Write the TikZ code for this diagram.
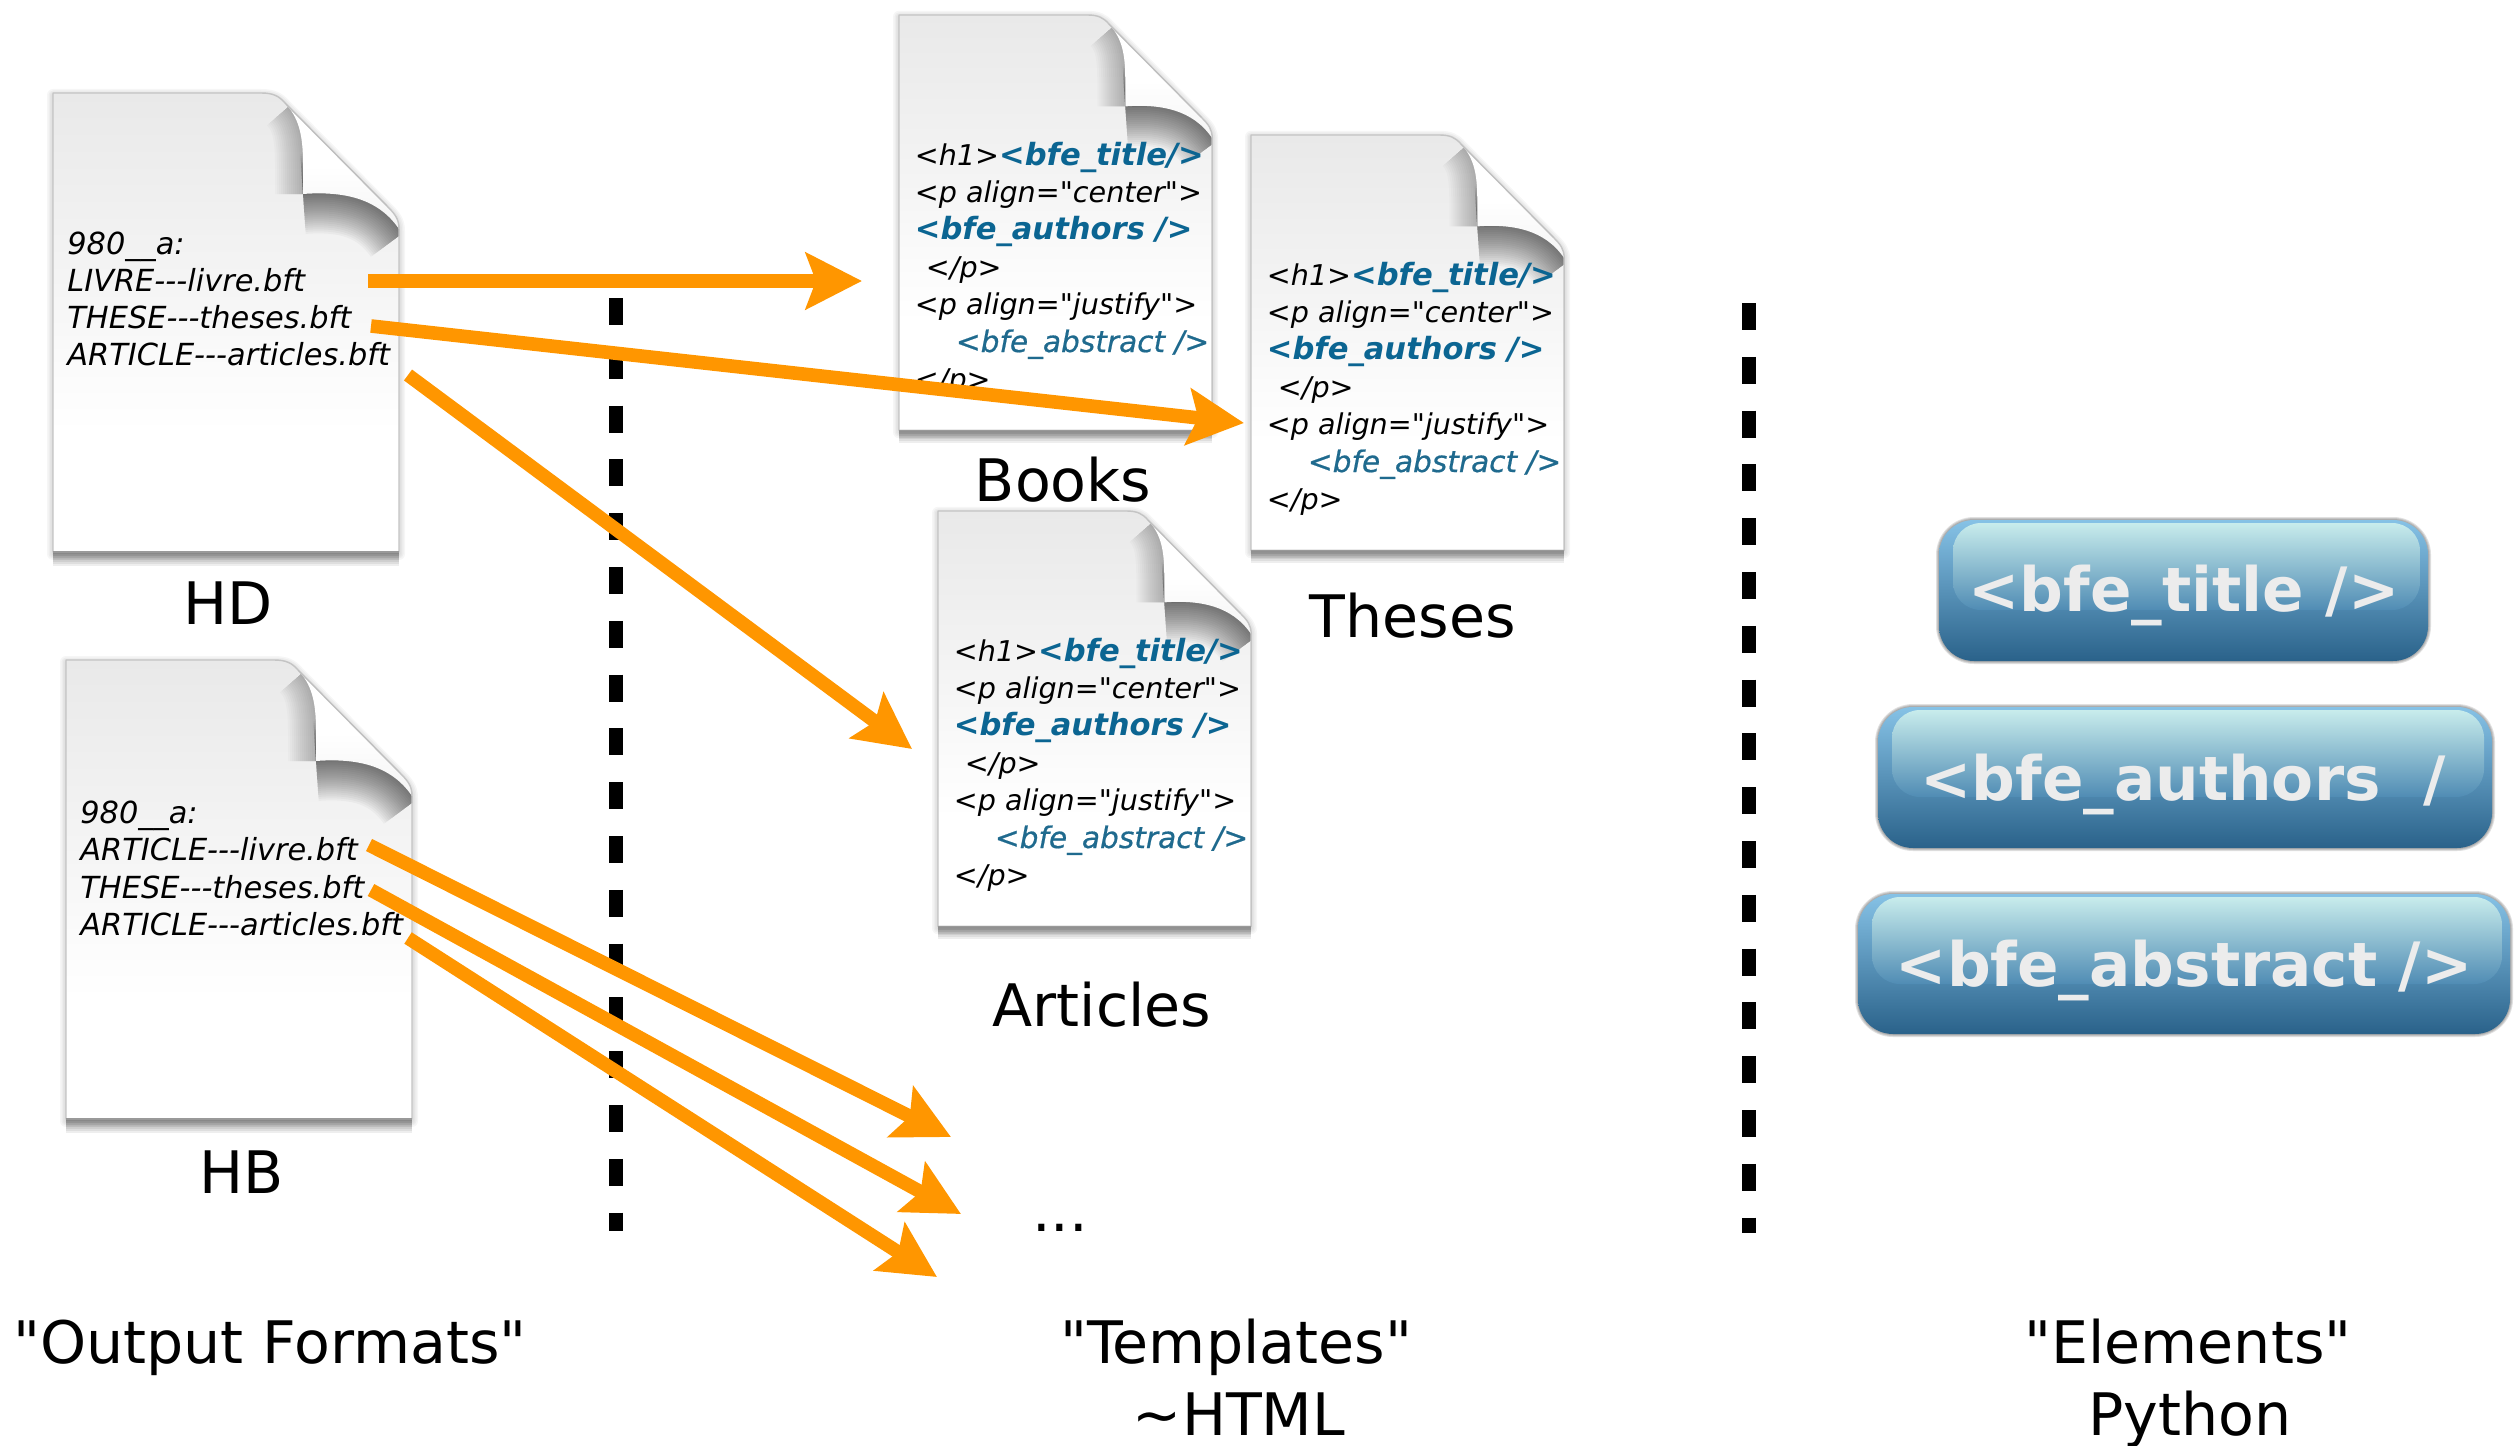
\documentclass[tikz,border=0pt]{standalone}
\usepackage{fontspec}
\newfontfamily\dv{DejaVu Sans}
\usetikzlibrary{arrows.meta}
\definecolor{flowc}{HTML}{FF9600}
\definecolor{bfec}{HTML}{0B6592}
\definecolor{absc}{HTML}{1F6A8E}
\definecolor{pg1}{HTML}{E9E9E9}
\definecolor{pg2}{HTML}{F4F4F4}
\definecolor{pg3}{HTML}{FBFBFB}
\definecolor{edgec}{HTML}{C4C4C4}
\definecolor{btop}{HTML}{86C2E6}
\definecolor{bmid}{HTML}{5F9DC4}
\definecolor{bbot}{HTML}{2A628A}
\definecolor{hitop}{HTML}{C8ECEC}
\definecolor{hibot}{HTML}{508CB4}
\definecolor{btxt}{HTML}{ECECEC}
\pgfdeclareverticalshading{docshade}{100bp}{color(0bp)=(white);color(38bp)=(white);color(45bp)=(pg3);color(55bp)=(pg2);color(75bp)=(pg1);color(100bp)=(pg1)}
\pgfdeclareverticalshading{flapshade}{100bp}{color(0bp)=(pg2);color(25bp)=(pg2);color(50bp)=(white);color(100bp)=(white)}
\tikzset{
  x=0.5pt,y=-0.5pt,
  doctext/.style={anchor=base west,inner sep=0pt,font=\dv\fontsize{15.2}{18}\selectfont\itshape},
  tpltext/.style={anchor=base west,inner sep=0pt,font=\dv\fontsize{14.3}{17}\selectfont\itshape},
  biglabel/.style={anchor=base,inner sep=0pt,font=\dv\fontsize{29.3}{35}\selectfont},
  btntext/.style={anchor=base,inner sep=0pt,text=btxt,font=\dv\fontsize{30.6}{37}\selectfont\bfseries},
  flow/.style={draw=flowc,line width=6.8pt,-{Stealth[length=28pt,width=28pt,inset=5pt,fill=flowc]}},
  divider/.style={draw=black,line width=6.8pt,dash pattern=on 13.5pt off 13.4pt},
}
\def\pagepath{(0,0)--(208,0)..controls(220,0)and(226,3)..(232,10)--(334,113)..controls(342,121)and(346,126)..(346,136)--(346,459)--(0,459)--cycle}
\def\flappath{(232,10)..controls(245,24)and(250,40)..(250,70)--(250,101)..controls(290,98)and(325,105)..(346,136)..controls(346,126)and(342,121)..(334,113)--cycle}
\newcommand\docshape[3]{%
  \begin{scope}[shift={(#1,#2)},scale=#3]
    \foreach \w in {3,6,9,12}{\draw[black,opacity=.035,line width=\w*0.5pt,line join=round] [yshift=-1pt] \pagepath;}
    \foreach \k in {2,4,...,14}{\fill[black,opacity=.065] [yshift=-\k*0.5pt] (0,200) rectangle (346,459);}
    \shade[shading=docshade] \pagepath;
    \begin{scope}
      \clip \pagepath;
      \foreach \w in {4,8,...,56}{\draw[black,opacity=.018,line width=\w*0.5pt] (235,14)..controls(245,24)and(250,40)..(250,70)--(250,101);}
      \foreach \w in {4,8,...,80}{\draw[black,opacity=.03,line width=\w*0.5pt] (250,101)..controls(290,98)and(325,105)..(350,140);}
    \end{scope}
    \shade[shading=flapshade] \flappath;
    \draw[edgec,line width=.7pt,line join=round] \pagepath;
    \draw[black!25,line width=.4pt] (232,10)--(334,113);
    \draw[black!40,line width=.8pt] (0,459)--(346,459);
  \end{scope}}
\newcommand\btnshape[4]{%
  \foreach \w in {2,4,6}{\draw[black,opacity=.12,line width=\w*0.5pt,rounded corners=17.5pt] (#1,#2) rectangle (#3,#4);}
  \shade[top color=btop,middle color=bmid,bottom color=bbot,rounded corners=17.5pt] (#1,#2) rectangle (#3,#4);
  \shade[top color=hitop,bottom color=hibot,rounded corners=14pt] ({#1+14},{#2+3}) rectangle ({#3-8},{#2+90});
}
\newcommand\tpl[3]{%
  \node[tpltext] (#1a) at (#2,#3) {<h1>\textcolor{bfec}{\bfseries\fontsize{15.3}{17}\selectfont <bfe\_title/>}};
  \node[tpltext] (#1b) at (#2,{#3+37.4}) {<p align="center">};
  \node[tpltext,text=bfec] (#1c) at (#2,{#3+74.8}) {\bfseries\fontsize{15.3}{17}\selectfont <bfe\_authors />};
  \node[tpltext] (#1d) at ({#2+11},{#3+112.2}) {</p>};
  \node[tpltext] (#1e) at (#2,{#3+149.6}) {<p align="justify">};
  \node[tpltext,text=absc] (#1f) at ({#2+41},{#3+187}) {\fontsize{14.8}{17}\selectfont\addfontfeature{FakeBold=0.6}<bfe\_abstract />};
  \node[tpltext] (#1g) at (#2,{#3+224.4}) {</p>};
}
\begin{document}
\begin{tikzpicture}
\useasboundingbox (0,0) rectangle (2514,1445);
% documents
\docshape{53}{93}{1}
\docshape{66}{660}{1}
\docshape{899}{15}{.905}
\docshape{1251}{135}{.905}
\docshape{938}{511}{.905}
% HD text
\node[doctext] (hd1) at (67,254) {980\_\_a:};
\node[doctext] (hd2) at (67,291) {LIVRE-{}-{}-livre.bft};
\node[doctext] (hd3) at (67,328) {THESE-{}-{}-theses.bft};
\node[doctext] (hd4) at (67,365) {ARTICLE-{}-{}-articles.bft};
% HB text
\node[doctext] (hb1) at (80,823) {980\_\_a:};
\node[doctext] (hb2) at (80,860) {ARTICLE-{}-{}-livre.bft};
\node[doctext] (hb3) at (80,898) {THESE-{}-{}-theses.bft};
\node[doctext] (hb4) at (80,935) {ARTICLE-{}-{}-articles.bft};
% templates
\tpl{bk}{914.5}{165}
\tpl{th}{1266.5}{285}
\tpl{ar}{953.5}{661}
% labels
\node[biglabel] (lhd) at (228,624) {HD};
\node[biglabel] (lhb) at (242,1193) {HB};
\node[biglabel] (lbk) at (1063,501) {Books};
\node[biglabel] (lth) at (1413,637) {Theses};
\node[biglabel] (lar) at (1102,1026) {Articles};
\node[biglabel] (ldots) at (1060,1231) {...};
\node[biglabel] (lof) at (270,1363) {"Output Formats"};
\node[biglabel] (ltp) at (1236,1363) {"Templates"};
\node[biglabel] (lht) at (1239,1435) {\textasciitilde HTML};
\node[biglabel] (lel) at (2188,1363) {"Elements"};
\node[biglabel] (lpy) at (2190,1435) {Python};
% buttons
\btnshape{1939}{520}{2428}{661}
\btnshape{1878}{707}{2492}{848}
\btnshape{1858}{894}{2510}{1034}
\node[btntext] (b1) at (2184,611) {<bfe\_title />};
\node[btntext] (b2) at (2183,800) {<bfe\_authors\ \ /};
\node[btntext] (b3) at (2184,986) {<bfe\_abstract />};
% dividers
\coordinate (d1a) at (616,298);
\coordinate (d1b) at (616,1231);
\coordinate (d2a) at (1749,303);
\coordinate (d2b) at (1749,1233);
\draw[divider] (d1a) -- (d1b);
\draw[divider] (d2a) -- (d2b);
% arrows
\coordinate (s1) at (368,281); \coordinate (t1) at (862,281);
\coordinate (s2) at (371,326); \coordinate (t2) at (1244,423);
\coordinate (s3) at (408,375); \coordinate (t3) at (912,749);
\coordinate (s4) at (369,845); \coordinate (t4) at (951,1137);
\coordinate (s5) at (371,890); \coordinate (t5) at (961,1214);
\coordinate (s6) at (408,938); \coordinate (t6) at (937,1277);
\draw[flow] (s1) -- (t1);
\draw[flow] (s2) -- (t2);
\draw[flow] (s3) -- (t3);
\draw[flow] (s4) -- (t4);
\draw[flow] (s5) -- (t5);
\draw[flow] (s6) -- (t6);
\end{tikzpicture}
\end{document}
